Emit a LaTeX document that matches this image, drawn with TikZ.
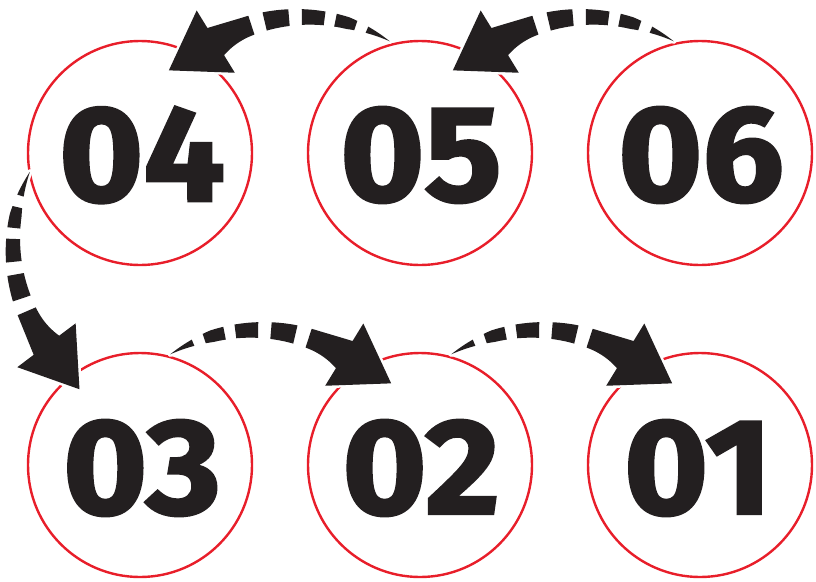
\documentclass[tikz,border=0pt]{standalone}
\usepackage{fontspec}
\newfontfamily\digitfont{Fira Sans}[FakeBold=2]
\definecolor{ringred}{RGB}{232,30,42}
\definecolor{inkblack}{RGB}{35,31,32}
\tikzset{
  declare function={wf(\s)=min(48*\s,12+14.5*(\s-0.25))+9*pow(max(0,(\s-0.8)*5),2);},
  ring/.style={circle, draw=ringred, line width=2.4pt, minimum size=224pt, inner sep=0pt},
  numtxt/.style={text=inkblack, font=\digitfont\bfseries\fontsize{136}{136}\selectfont, inner sep=0pt, xscale=1.06},
  arrowpiece/.style={fill=inkblack, preaction={draw=white, line width=5pt, line join=round}},
}
% #1 cx, #2 cy, #3 R, #4 start angle, #5 signed sweep
\newcommand{\taparrow}[5]{%
  \foreach \ta/\tb in {0/0.14, 0.205/0.32, 0.38/0.505, 0.575/0.71}{%
    \fill[arrowpiece]
      plot[domain=\ta:\tb, samples=14, variable=\s] ({#1+(#3+wf(\s)/2)*cos(#4+#5*\s)}, {#2+(#3+wf(\s)/2)*sin(#4+#5*\s)})
      -- plot[domain=\tb:\ta, samples=14, variable=\s] ({#1+(#3-wf(\s)/2)*cos(#4+#5*\s)}, {#2+(#3-wf(\s)/2)*sin(#4+#5*\s)})
      -- cycle;
  }%
  \pgfmathsetmacro{\aend}{#4+#5}%
  \pgfmathsetmacro{\sg}{#5>0 ? 1 : -1}%
  \pgfmathsetmacro{\ex}{#1+#3*cos(\aend)}%
  \pgfmathsetmacro{\ey}{#2+#3*sin(\aend)}%
  \pgfmathsetmacro{\nx}{cos(\aend)}%
  \pgfmathsetmacro{\ny}{sin(\aend)}%
  \pgfmathsetmacro{\dx}{-\sg*sin(\aend)}%
  \pgfmathsetmacro{\dy}{\sg*cos(\aend)}%
  \fill[arrowpiece]
    plot[domain=0.785:1, samples=16, variable=\s] ({#1+(#3+wf(\s)/2)*cos(#4+#5*\s)}, {#2+(#3+wf(\s)/2)*sin(#4+#5*\s)})
    -- ({\ex+36.5*\nx}, {\ey+36.5*\ny})
    -- ({\ex+55*\dx}, {\ey+55*\dy})
    -- ({\ex-36.5*\nx}, {\ey-36.5*\ny})
    -- plot[domain=1:0.785, samples=16, variable=\s] ({#1+(#3-wf(\s)/2)*cos(#4+#5*\s)}, {#2+(#3-wf(\s)/2)*sin(#4+#5*\s)})
    -- cycle;
}
\begin{document}
\begin{tikzpicture}[x=1pt, y=-1pt]
\useasboundingbox (0,0) rectangle (816,581);
% rings
\node[ring] (c04) at (140,153) {};
\node[ring] (c05) at (420,153) {};
\node[ring] (c06) at (700,153) {};
\node[ring] (c03) at (140,465) {};
\node[ring] (c02) at (420,465) {};
\node[ring] (c01) at (700,465) {};
% numbers
\node[numtxt] (t04) at (142,155) {04};
\node[numtxt] (t05) at (421,155) {05};
\node[numtxt] (t06) at (701,155) {06};
\node[numtxt] (t03) at (142,468) {03};
\node[numtxt] (t02) at (421,468) {02};
\node[numtxt] (t01) at (698,468) {01};
% arrows
\taparrow{303}{184}{167}{-58.7}{-62.8}
\taparrow{587}{184}{167}{-58.7}{-62.8}
\taparrow{180}{245}{167}{206.0}{-62.9}
\taparrow{257}{497}{167}{-121.3}{62.8}
\taparrow{538}{497}{167}{-121.3}{62.8}
\end{tikzpicture}
\end{document}
